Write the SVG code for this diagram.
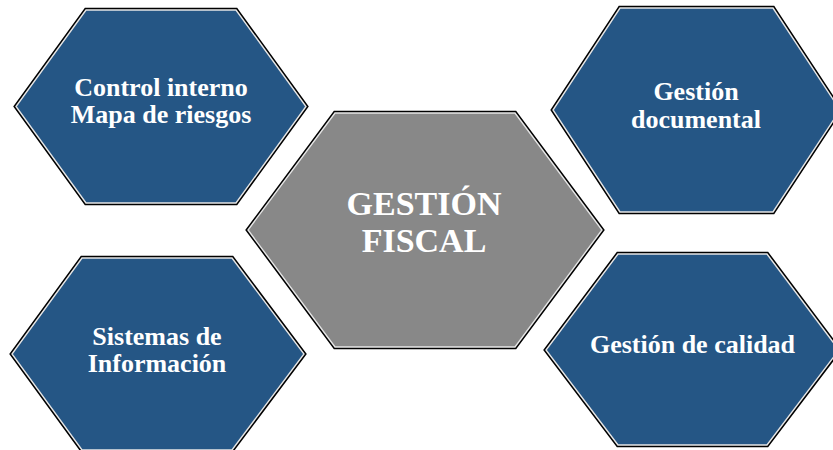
<svg xmlns="http://www.w3.org/2000/svg" width="833" height="450" viewBox="0 0 833 450">
<defs>
<style>
.edge{fill:none;stroke:#000;stroke-width:4.5;stroke-linejoin:miter}
.blue{fill:#255685;stroke:#e6e6e6;stroke-width:1.4;stroke-linejoin:miter}
.grey{fill:#888888;stroke:#e6e6e6;stroke-width:1.4;stroke-linejoin:miter}
.t{font-family:"Liberation Serif","Times New Roman",serif;font-weight:bold;fill:#fff;text-anchor:middle}
.s{font-size:26px}
.c{font-size:34px}
</style>
</defs>
<rect width="833" height="450" fill="#fff"/>
<g id="connectors"></g>
<g id="control-interno">
<polygon class="edge" points="86,10 236,10 306,106.5 236,203 86,203 16,106.5"/>
<polygon class="blue" points="86,10 236,10 306,106.5 236,203 86,203 16,106.5"/>
<text class="t s" x="161" y="96">Control interno</text>
<text class="t s" x="161" y="123">Mapa de riesgos</text>
</g>
<g id="gestion-documental">
<polygon class="edge" points="620,8 773,8 840,110 773,212 620,212 553,110"/>
<polygon class="blue" points="620,8 773,8 840,110 773,212 620,212 553,110"/>
<text class="t s" x="696" y="100">Gestión</text>
<text class="t s" x="696" y="128">documental</text>
</g>
<g id="gestion-fiscal">
<polygon class="edge" points="335,113 515,113 602,230 515,347 335,347 248,230"/>
<polygon class="grey" points="335,113 515,113 602,230 515,347 335,347 248,230"/>
<text class="t c" x="424" y="215">GESTIÓN</text>
<text class="t c" x="424" y="252">FISCAL</text>
</g>
<g id="sistemas-informacion">
<polygon class="edge" points="82,258 232,258 304,354 232,450 82,450 12,354"/>
<polygon class="blue" points="82,258 232,258 304,354 232,450 82,450 12,354"/>
<text class="t s" x="157" y="345">Sistemas de</text>
<text class="t s" x="157" y="372">Información</text>
</g>
<g id="gestion-calidad">
<polygon class="edge" points="618,254 767,254 839,350 767,445 618,445 546,350"/>
<polygon class="blue" points="618,254 767,254 839,350 767,445 618,445 546,350"/>
<text class="t s" x="692.5" y="353">Gestión de calidad</text>
</g>
</svg>
